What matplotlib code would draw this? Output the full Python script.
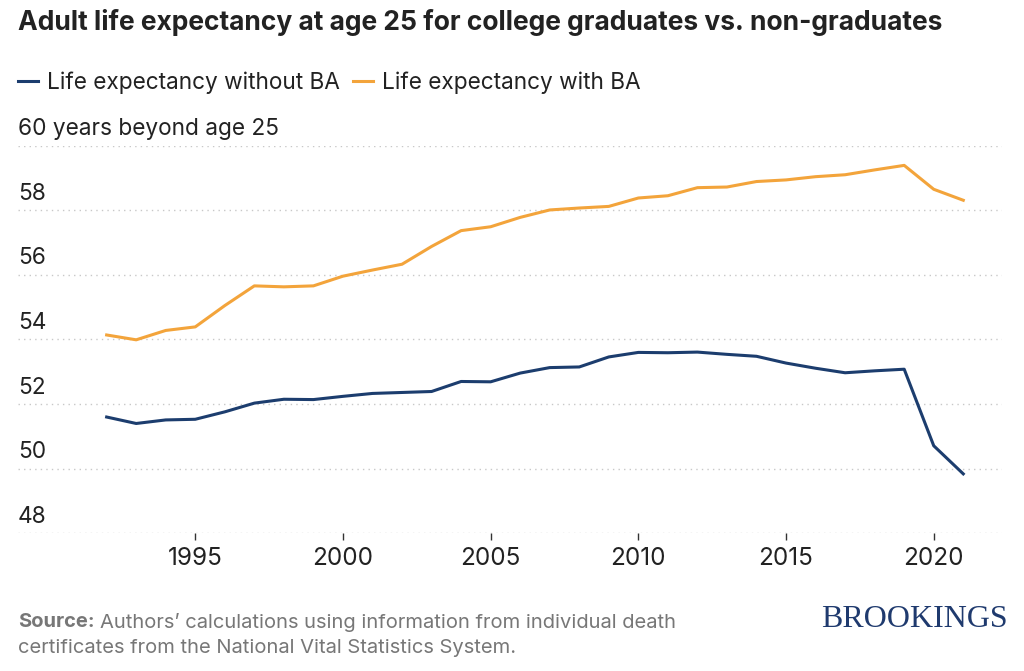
import matplotlib.pyplot as plt
from matplotlib.lines import Line2D

years = list(range(1992, 2022))
with_ba = [54.14, 53.99, 54.28, 54.39, 55.05, 55.66, 55.63, 55.66, 55.96, 56.15,
           56.33, 56.88, 57.37, 57.49, 57.78, 58.01, 58.07, 58.12, 58.38, 58.45,
           58.70, 58.72, 58.89, 58.94, 59.04, 59.10, 59.25, 59.39, 58.65, 58.31]
without_ba = [51.60, 51.40, 51.51, 51.53, 51.76, 52.03, 52.15, 52.14, 52.24, 52.33,
              52.36, 52.39, 52.70, 52.69, 52.96, 53.13, 53.15, 53.46, 53.60, 53.59,
              53.61, 53.54, 53.48, 53.27, 53.11, 52.97, 53.03, 53.08, 50.71, 49.84]
y_ticks = [48, 50, 52, 54, 56, 58, 60]
x_ticks = [1995, 2000, 2005, 2010, 2015, 2020]

plt.rcParams['font.family'] = ['Inter', 'DejaVu Sans']
blue = '#1c3d6e'
orange = '#f3a43b'
text_col = '#222222'
grey = '#777777'

fig = plt.figure(figsize=(10.24, 6.71), dpi=100)
ax = fig.add_axes([0.0176, 0.2052, 0.9606, 0.5777])

ax.plot(years, without_ba, color=blue, linewidth=2.2)
ax.plot(years, with_ba, color=orange, linewidth=2.2)

ax.set_xlim(1989, 2022.3)
ax.set_ylim(48, 60)
for s in ax.spines.values():
    s.set_visible(False)
ax.set_yticks(y_ticks)
ax.set_yticklabels([])
ax.tick_params(axis='y', length=0)
ax.grid(axis='y', color='#c8c8c8', linestyle=(0, (1, 3)), linewidth=1.0)
ax.set_axisbelow(True)
ax.set_xticks(x_ticks)
ax.tick_params(axis='x', length=5, width=1, color='#333333', pad=5,
               labelsize=17.5, labelcolor=text_col)

for v in y_ticks:
    label = '60 years beyond age 25' if v == 60 else str(v)
    ax.text(0, v + 0.17, label, transform=ax.get_yaxis_transform(),
            ha='left', va='bottom', fontsize=16.3, color=text_col)

fig.text(0.0176, 0.987, 'Adult life expectancy at age 25 for college graduates vs. non-graduates',
         ha='left', va='top', fontsize=19, fontweight='bold', color=text_col)

handles = [Line2D([], [], color=blue, linewidth=2.2),
           Line2D([], [], color=orange, linewidth=2.2)]
fig.legend(handles, ['Life expectancy without BA', 'Life expectancy with BA'],
           loc='center left', bbox_to_anchor=(0.0176, 0.877), ncol=2, frameon=False,
           fontsize=16.3, handlelength=0.9, handletextpad=0.4, columnspacing=0.55,
           labelcolor=text_col, borderpad=0, borderaxespad=0)

# source note, bold lead-in followed by regular text
src = fig.text(0.0176, 0.073, 'Source:', ha='left', va='center', fontsize=14.5,
               fontweight='bold', color=grey)
fig.canvas.draw()
x2 = (src.get_window_extent().x1 + 5) / fig.bbox.width
fig.text(x2, 0.073, 'Authors\u2019 calculations using information from individual death',
         ha='left', va='center', fontsize=14.5, color=grey)
fig.text(0.0176, 0.034, 'certificates from the National Vital Statistics System.',
         ha='left', va='center', fontsize=14.5, color=grey)
fig.text(0.984, 0.077, 'BROOKINGS', ha='right', va='center', fontsize=23,
         family='Liberation Serif', color='#1f3a6e')

fig.savefig('out.png', dpi=100)
